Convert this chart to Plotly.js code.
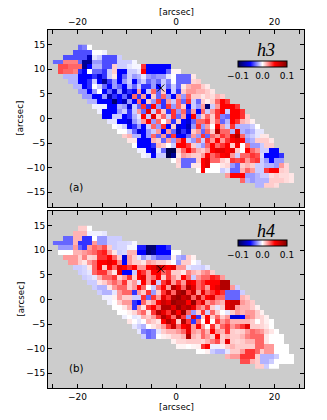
<!DOCTYPE html>
<html>
<head>
<meta charset="utf-8">
<script src="https://cdn.plot.ly/plotly-3.0.1.min.js"></script>
<style>
  html, body { margin: 0; padding: 0; background: #fff; }
  #chart { width: 327px; height: 420px; }
</style>
</head>
<body>
<div id="chart"></div>
<script>
// 1 arcsec bins, centres in arcsec
const xCenters = [-24.5,-23.5,-22.5,-21.5,-20.5,-19.5,-18.5,-17.5,-16.5,-15.5,-14.5,-13.5,-12.5,-11.5,-10.5,-9.5,-8.5,-7.5,-6.5,-5.5,-4.5,-3.5,-2.5,-1.5,-0.5,0.5,1.5,2.5,3.5,4.5,5.5,6.5,7.5,8.5,9.5,10.5,11.5,12.5,13.5,14.5,15.5,16.5,17.5,18.5,19.5,20.5,21.5,22.5,23.5,24.5];
const yCenters = [14.5,13.5,12.5,11.5,10.5,9.5,8.5,7.5,6.5,5.5,4.5,3.5,2.5,1.5,0.5,-0.5,-1.5,-2.5,-3.5,-4.5,-5.5,-6.5,-7.5,-8.5,-9.5,-10.5,-11.5,-12.5,-13.5];

// first occupied column of each row (same footprint in both maps)
const rowStart = [5,4,2,0,1,1,2,3,4,5,6,7,8,9,10,11,12,13,14,15,16,17,18,24,25,29,35,38,41];

// row values, units of 0.01
const h3Rows = [
  [-3,-2.5,0],
  [-3.5,-3.5,-3.5,-3.5,0,0,-0.3],
  [-3.5,-3.5,-3.5,-3.5,-3.5,-7,-0.5,-1,-3.5,-3.5,-3.5,-1],
  [-3,-3,2.5,2.5,2.5,-3,-8,-8,-2,-2,-3.5,-3.5,-3.5,-1,-1,-1,-0.2],
  [3.5,3.5,3,3,3,-8,-5,-1.5,-1.5,-3.5,-3.5,1,-1,-1,-0.5,-0.2,-0.2,4,-5,-5,-5,-5,-5],
  [3.5,3,3,2.5,-4,-5,0,-3,-3,-4,-1,1,-5,-5,-1,-1,-0.5,5,-5,-5,-5,-5,-3,0.2,0.2],
  [-1.5,-1.5,-1.5,-5,-5,-5,-4,-6,-4,-1,0.5,-5,-3,-1,-2,-1.5,-0.5,-2,-2.5,-2,-2,-0.5,0,-3,-3,-3,0.5],
  [-1.5,-1.5,-5,-5,-4,-1,-5,-8,-4,-2,-5,-2,-1,-5,-2,-1,-3,-2,-3,-1,-2.5,0,-3,-3,-3,0.8,1],
  [-1.5,-1.5,-5,-4,0,-1,-3,-5,-2,-3,-5,-1.5,-3,-1,-4,-4,-2,-5,-1,-3,-1,-3,0.5,1.5,2,2,1,0.5],
  [-2,-2,-5,-2,0,-5,-3,-6,-2,-6,-4,-5,2,-5,-1,3,-3,1,-5,-1,-4,1,2,2,1.5,1.5,1,0.5],
  [-2,-2,-5,-5,-2,-7,-4,-5,-3,-6,3,-4,2,-5,1,-3,3,-2,-5,2,-2,3,1,1,0.5,1,0.7,1.5,1],
  [-1.5,-1.5,-5,-5,-5,-9,-5,-7,-2,-5,3,-5,1,-2,4,-4,2,-1,3,-3,4,-1,-3,1,0.3,1,3,5,4],
  [-0.3,-0.3,-0.3,-5,-5,-1.5,-2,-6,-1,-3,4,-4,5,-2,-4,4,-2,3,1,-5,-1,-2,2,-9,-1,2,5,5,5,4],
  [-0.3,-5,-5,-5,-2,-1,-4,-1,2,-3,6,-1,4,1,-4,4,-2,3,-4,2,-5,3,-1,2,4,5,-1,5,5,4],
  [-5,-5,-1,-1,-5,-4,-1.5,-0.5,5,-1,6,1,3,-1,4,-3,2,-5,5,-2,1,3,1,4,-2.5,-3,5,5,4,1],
  [-0.5,-0.5,-5,-5,-6,-2,-1,2,5,-2,3,0,2,-4,1,-5,-6,-3,3,3,4,1,3,-3,-1.5,5,4,1.5,1,0.3],
  [0,-0.3,-1,-5,-4,-2,-5,-1,3,-2,4,-5,1,-6,-5,-7,-2,4,-2,2,0,5,2,-1,4,-1.5,-1.5,-1.5,-1,0],
  [0,0,-1,-3,-6,-5,-2,-1,2,-5,2,-3,-7,-4,-6,1,2,-3,3,1,8,3,3,-1.5,6,-1.5,-2,-1.5,-0.5,-0.5],
  [1,1.5,-1.5,-1.5,-5,-2,3,-3,2,-4,4,-5,-5,-3,2,-2,4,-3,3,2,4,3,6,8,3,-1.5,-1,-0.5,0.5,0.5],
  [0.5,0.5,-5,-5,-5,1.5,1,-3,2,-2,3,5,-1,-2,3,-1,4,2,5,2,4,5,6,5,-2,-1.5,1,1,1,0.5],
  [0,-5,-5,-5,-4,1.5,1,0,-1,5,5,4,1,-1,-2,3,5,3,4,5,1,5,0,3,-2,-2,-1,1,1],
  [-0.3,-0.3,-5,-6,-0.5,-3,-10,-10,1,3,5,3,1.5,1,2,5,6,6,5,6,1,0,5,3,2,-1,-1,-5,-5],
  [-0.2,-0.5,-5,-1,-1,-10,-8,0.5,2,1.5,1,1,2,5,3,4,5,5.5,2,-1,3,3,4,3.5,-0.7,-5,-5,-5,-4],
  [0,1,-3,-3,-3,1,5,6,3,3,1,0.5,4,3.5,4,2,3.5,4,-1,-2,-5,-2,-2],
  [0.8,-3,-3,0.5,0.5,5,6,0,0,0.5,0.8,-2,-3,1,1.5,1,-1,-1,-1.5,-1.5,-2,2,0.8],
  [0,5,0,0,0,-1,-0.5,-3,-3,1.5,3,2,-1,-1,4,5,5,1,0.8],
  [2,5,5,5,-2,-2,-1.5,-1,-1,0.7,1,0.7,0.7,0.5],
  [3,-1.5,-2,-1.5,-1.5,-1.5,1,1,1,0.7,0.5],
  [-1.5,-1.5,1,1,0.7]
];

const h4Rows = [
  [1,1,0],
  [1.5,1.5,1.5,-0.3,-0.3,-0.3,-0.5],
  [-3,-3,1.5,1.5,-4,-4,0,-2,-2,-1,-1,-1],
  [-3,-3,-3,-3,1.5,-4,-4,-4,2,-2,-2,-1,-1,-0.8,-0.8,-0.7,-0.2],
  [-2,-2,-2,2,-3,-4,2,3,2.5,3.5,1,-1,-0.8,-0.8,-0.2,-0.2,-4.5,-4.5,-9,-9,-5,-5,-4],
  [0,0,0,1.5,1.5,2,2.5,3,4,4.5,2,0.5,-1,-0.8,1.5,1.5,-5,-5,-9,-8,-5,-5,-5,0,0],
  [2,2,2,1,2.5,0.8,1,4,4,5,3,1,-6,2,1,-0.5,-2,-1,-2,-3,-3,-3,0.3,-1.5,-2,1,0.3],
  [2,2,1,0.5,2,3,5,5,6,5,2.5,-5,2,1,1,0.5,2,1.5,1,1,0.5,0,-2,1,1,0,-0.5],
  [-1,-1,-0.8,0.5,3,5,1,5,3,6,5,4,5,2,2,5,6,8,6,5,6,2,2,-0.5,-0.8,-0.8,-1,-0.5],
  [-1,-0.8,-0.5,3,4,4,2,0.5,6,-5,-5,-1,5,4,2,5,5,3,4,1,1,0.5,2.5,1.5,1,2,2.5,1],
  [-1,-0.8,-0.5,1.5,3,3,4,1,2,4,1,5,6,2,3,5,1,4,2,1,5,3,-1,2,3,3,4.5,4,2],
  [-1,-1,0.5,1,2,3,2,4,1,2,-0.5,5,2,6,-1,4,6,2,4,2,6,5,3,4,5,5,5,8,8],
  [-1,-1.5,-1.5,0.5,2,3,3,1,2,5,3,0,-1,3,5,2,8,6,3,8,6,3,4,2,5,6,8,8,2,-1],
  [-1,-1.5,-1.5,-0.5,2,3,3,-4,2,1,4,-2,1,4,7,3,8,9,4,7,2,6,3,4,5,4,-3,-3,-3,-1],
  [-0.3,-0.3,0.3,2,1,1,-1,-1,4,-3,4,2,6,4,8,9,7,8,3,7,3,5,6,3,3,-3,-3,-3,1.5,1],
  [-0.3,0,1,2,2,-4,-5,3,1,2,5,7,6,9,8,8,5,9,4,6,2,3,2,1.5,6,7,7,2,1.5,1],
  [0,0,0.5,1.5,-4,2,0.5,4,5,3,8,8,6,9,7,8,6,3,2,4,1,-0.5,1,6,7,2,1.5,1.5,1,0.3],
  [0,0,0.3,0.8,2,3,0.5,4,8,6,4,8,5,9,3,-2,1,4,-1,3,1,0,-0.5,1,2,1.5,2,2,1,0.3],
  [-0.3,0,-0.5,-0.3,1.5,1,2,4,8,6,3,8,4,-2,6,-4,1,5,1,3,1,2,-6,-6,-5,2.5,2,1,0.8,0.3],
  [0.5,0,-0.5,0,1.5,1,0.5,5,8,6,1,8,4,-4,3,0,5,0,4,2,3,1.5,1.5,1.5,1.5,1,0,0.8,0.3,0],
  [-0.5,-1,-1.5,0,0.5,1,2,4,7,3,5,6,2,5,2,0,4,1,3,4,2,3,4,6,1,1,0.8,0.5,0],
  [-0.5,-2.5,-3,-2.5,-0.5,1,1.5,1.5,2,3,6,2,1.5,3,1.5,5,2,1.5,4,1,0.8,1,2,3,2.5,2,1,0.5,0],
  [-1,-3,-2.5,0,0.3,0.5,1,1,1.5,8,1.5,1,3,2,1,5,1,1.5,1,1,1.5,2.5,3,3,3,0.5,0,0,0],
  [0.3,0.8,0.8,1,1,1,0.8,1.5,2.5,3.5,1,6,1,0.8,1,1.5,1.5,3,3,0.5,0,0,0],
  [0.2,0.2,0,0.2,0.3,4,5,-0.3,-0.3,0.3,1,1.5,1,1,1,1,3,3,2,2,0,0,0],
  [0,0,0.3,-1,-1.5,-1.5,-0.5,1,1,2,4,4,3,1,2,2,0,0,0],
  [1.5,2,2,4,4,4,1,-1.5,-1.5,-1.5,-1,0,0,0],
  [3.5,3.5,1.5,1,-1.5,-1.5,-1,0,0,0,0],
  [1,1,-1,0,0]
];

const markX = [-3.1];
const markY = [6.2];
const xTickVals = [-25,-20,-15,-10,-5,0,5,10,15,20,25];
const xTickText = ['','\u221220','','','','0','','','','20',''];
const yTickVals = [-15,-10,-5,0,5,10,15];
const yTickText = ['\u221215','\u221210','\u22125','0','5','10','15'];
const barVals = [-0.1,0,0.1];
const barText = ['\u22120.1','0.0','0.1'];

// seismic colormap
const seismic = [[0,'#00004d'],[0.25,'#0000ff'],[0.5,'#ffffff'],[0.75,'#ff0000'],[1,'#800000']];
const tickFont = {family:'DejaVu Sans', size:9, color:'#000'};
const labelFont = {family:'DejaVu Sans', size:8.7, color:'#000'};
const nameFont = {family:'Liberation Serif', size:18, color:'#000'};
const panelFont = {family:'DejaVu Sans', size:10.3, color:'#000'};

function buildZ(rows) {
  return rows.map((vals, r) => {
    let out = new Array(xCenters.length).fill(null);
    vals.forEach((v, i) => { out[rowStart[r] + i] = v / 100; });
    return out;
  });
}

function heat(z, xa, ya, barY) {
  return {
    type:'heatmap', x:xCenters, y:yCenters, z:z, xaxis:xa, yaxis:ya,
    colorscale:seismic, zmin:-0.1, zmax:0.1, hoverinfo:'skip',
    colorbar:{
      orientation:'h', lenmode:'pixels', len:49, thickness:5.5,
      x:0.838, xanchor:'center', y:barY, yanchor:'bottom', ypad:0, xpad:0,
      tickvals:barVals, ticktext:barText, ticks:'', ticklen:0,
      tickfont:tickFont,
      outlinecolor:'#000', outlinewidth:1, borderwidth:0
    }
  };
}

function mark(xa, ya) {
  return {
    type:'scatter', mode:'markers', x:markX, y:markY, xaxis:xa, yaxis:ya,
    marker:{symbol:'x-thin', size:7, line:{color:'#000', width:1}},
    hoverinfo:'skip', showlegend:false
  };
}

function xAxis(anchor, side) {
  return {
    range:[-26,26], anchor:anchor, side:side, tickmode:'array',
    tickvals:xTickVals, ticktext:xTickText, ticks:'inside', ticklen:4, tickwidth:1,
    tickcolor:'#000', tickfont:tickFont, showgrid:false, zeroline:false,
    showline:true, linecolor:'#000', linewidth:1, mirror:'ticks'
  };
}

function yAxis(anchor, domain) {
  return {
    range:[-18,18], anchor:anchor, domain:domain, tickmode:'array',
    tickvals:yTickVals, ticktext:yTickText, ticks:'inside', ticklen:4, tickwidth:1,
    tickcolor:'#000', tickfont:tickFont, showgrid:false, zeroline:false,
    showline:true, linecolor:'#000', linewidth:1, mirror:'ticks'
  };
}

function paperLabel(x, y, angle) {
  return {
    xref:'paper', yref:'paper', x:x, y:y, xanchor:'center', yanchor:'middle',
    text:'[arcsec]', textangle:angle, showarrow:false, font:labelFont
  };
}

let traces = [
  heat(buildZ(h3Rows), 'x', 'y', 0.867),
  heat(buildZ(h4Rows), 'x2', 'y2', 0.367),
  mark('x', 'y'),
  mark('x2', 'y2')
];

let layout = {
  width:327, height:420,
  margin:{l:48, r:23, t:30, b:32},
  paper_bgcolor:'#fff', plot_bgcolor:'#cccccc',
  showlegend:false,
  xaxis:xAxis('y', 'top'),
  yaxis:yAxis('x', [0.5056,1]),
  xaxis2:xAxis('y2', 'bottom'),
  yaxis2:yAxis('x2', [0,0.4944]),
  annotations:[
    {xref:'x', yref:'y', x:18.3, y:14, text:'<i>h3</i>', showarrow:false, font:nameFont},
    {xref:'x2', yref:'y2', x:18.3, y:14, text:'<i>h4</i>', showarrow:false, font:nameFont},
    {xref:'x', yref:'y', x:-20.3, y:-14, text:'(a)', showarrow:false, font:panelFont},
    {xref:'x2', yref:'y2', x:-20.3, y:-14, text:'(b)', showarrow:false, font:panelFont},
    paperLabel(0.5, 1.05, 0),
    paperLabel(0.5, -0.053, 0),
    paperLabel(-0.109, 0.7528, -90),
    paperLabel(-0.109, 0.2472, -90)
  ]
};

Plotly.newPlot('chart', traces, layout, {displayModeBar:false, staticPlot:true});
</script>
</body>
</html>
